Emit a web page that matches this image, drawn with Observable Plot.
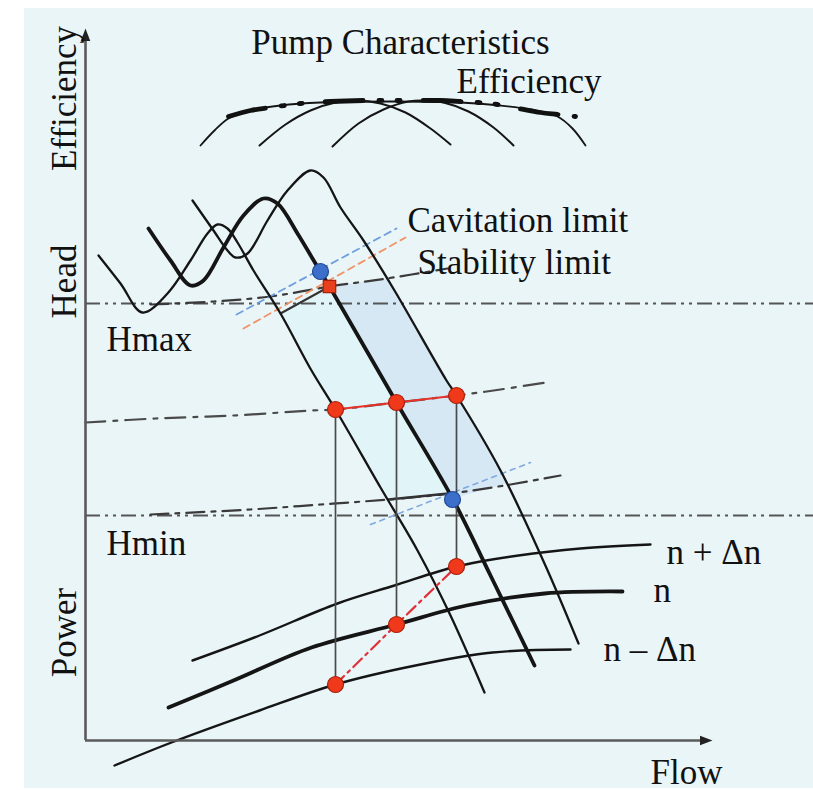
<!DOCTYPE html>
<html>
<head>
<meta charset="utf-8">
<script src="https://cdn.jsdelivr.net/npm/d3@7"></script>
<script src="https://cdn.jsdelivr.net/npm/@observablehq/plot@0.6"></script>
<style>
  html, body { margin: 0; padding: 0; background: #ffffff; }
  #wrap { position: relative; width: 813px; height: 790px; overflow: hidden; }
  #panel { position: absolute; left: 24px; top: 8px; right: 0; bottom: 2px; background: #eaf5f8; }
  #chart { position: absolute; left: 0; top: 0; }
</style>
</head>
<body>
<div id="wrap"><div id="panel"></div><div id="chart"></div></div>
<script>
// Schematic units: q = flow (0 at the vertical axis), h = level (0 at the flow axis).

// Efficiency curves for the three speeds and their envelope
const effOuter = [[115,595],[129,610],[143,622],[165,630],[195,635],[235,638],[307,639],[375,638],[415,635],[445,631],[472,624],[487,612],[500,595]];
const effLeft  = [[174,595],[200,616],[225,630],[250,638],[270,640],[295,637],[320,628],[345,612],[365,596]];
const effRight = [[247,594],[273,617],[298,631],[323,639],[338,640],[358,638],[383,629],[408,613],[428,595]];
const effEnvelope = [[143,624],[165,630],[185,633],[215,637],[245,639],[278,640],[315,640],[355,640],[375,639],[393,638],[412,636],[433,632],[455,628],[472,626],[490,624]];

// Head curves: n − Δn, n, n + Δn
const headLow  = [[13,485],[35,457],[57,428],[82,447],[105,480],[122,507],[132,516],[142,512],[152,498],[168,470],[195,427],[226,370],[250,331],[295,253],[332,190],[365,125],[399,48]];
const headNom  = [[63,512],[85,480],[105,455],[118,460],[138,493],[158,525],[178,542],[192,537],[212,507],[227,482],[236,467],[244,454],[311,338],[367,242],[405,165],[449,75]];
const headHigh = [[107,540],[128,510],[142,490],[150,483],[162,487],[182,520],[202,550],[225,570],[238,563],[255,533],[278,500],[309,450],[361,360],[371,345],[415,270],[459,177],[493,97]];

// Power curves: n + Δn, n, n − Δn
const powerHigh = [[107,80],[174,105],[252,137],[309,155],[371,174],[433,185],[495,192],[565,196]];
const powerNom  = [[83,33],[148,60],[226,93],[311,116],[381,135],[459,147],[537,149]];
const powerLow  = [[29,-25],[86,-2],[174,30],[250,56],[330,75],[407,88],[485,91]];

// Head limits
const headLimits = [{name: "Hmax", h: 437}, {name: "Hmin", h: 225}];

// System curve through the operating points
const systemCurve = [[0,318],[70,322],[148,325],[226,330],[250,331],[311,338],[371,345],[415,351],[460,358]];

// Stability limit lines
const stabilityUpper = [[65,436],[128,439],[185,444],[244,454],[301,462],[362,472]];
const stabilityUpperSolid = [[195,427],[244,454]];
const stabilityLower = [[65,226],[165,231],[235,236],[303,241],[365,247],[425,256],[475,265]];
const stabilityLowerSolid = [[303,241],[363,247]];

// Cavitation limit lines
const cavitationBlueUpper = [[151,426],[311,512]];
const cavitationOrangeUpper = [[158,412],[320,503]];
const cavitationBlueLower = [[285,216],[445,278]];

// Operating range between the n and n + Δn curves
const operatingRange = [[244,454],[311,338],[367,242],[421,257],[415,270],[371,345],[361,360],[309,450],[301,462]];
// Band between the n − Δn and n curves
const lowerBand = [[195,427],[226,370],[250,331],[295,253],[303,241],[363,247],[367,242],[311,338],[244,454]];

// Operating points (head) and the matching power points
const opFlows = [250, 311, 371];
const opHeads = [331, 338, 345];
const opPowers = [56, 116, 174];
const stabilityPoint = [[244,454]];
const cavitationPoints = [[235,469],[367,241]];

// Text
const axisNames = [{text: "Efficiency", h: 642}, {text: "Head", h: 459}, {text: "Power", h: 108}];
const title = [{text: "Pump Characteristics", q: 315, h: 687}];
const notes = [
  {text: "Efficiency", q: 371, h: 648},
  {text: "Cavitation limit", q: 322, h: 509},
  {text: "Stability limit", q: 332, h: 467},
  {text: "Hmax", q: 21, h: 390},
  {text: "Hmin", q: 21, h: 186},
  {text: "n + Δn", q: 581, h: 177},
  {text: "n", q: 568, h: 139},
  {text: "n – Δn", q: 518, h: 80},
  {text: "Flow", q: 565, h: -43}
];

const axisTop = 712, axisRight = 627;

const opPoints = opFlows.map((q, i) => [q, opHeads[i]]);
const powerPoints = opFlows.map((q, i) => [q, opPowers[i]]);
const links = opFlows.map((q, i) => ({q, h1: opHeads[i], h2: opPowers[i]}));

// Filled arrowhead with its tip at the anchor, pointing up
const arrowHead = {
  draw(context, size) {
    const s = Math.sqrt(size / Math.PI);
    context.moveTo(0, 0);
    context.lineTo(s * 0.95, s * 2.5);
    context.lineTo(-s * 0.95, s * 2.5);
    context.closePath();
  }
};

const serif = "'Liberation Serif', 'Times New Roman', serif";
const curve = "catmull-rom";
const ink = "#151515";

const chart = Plot.plot({
  width: 813,
  height: 790,
  margin: 0,
  x: {domain: [-85, 728], axis: null},
  y: {domain: [-50, 740], axis: null},
  style: {background: "transparent", overflow: "visible"},
  marks: [
    // shaded bands
    Plot.line(lowerBand, {fill: "#e1f4f8", stroke: "none"}),
    Plot.line(operatingRange, {fill: "#d4e7f3", stroke: "none", fillOpacity: 0.95}),

    // Hmax / Hmin
    Plot.ruleY(headLimits, {y: "h", x1: 0, x2: 728, stroke: "#555", strokeWidth: 2.2, strokeDasharray: "15,5,3,5,3,5"}),

    // system curve
    Plot.line(systemCurve, {curve, stroke: "#4a4a4a", strokeWidth: 2.2, strokeDasharray: "20,8,4,8"}),

    // stability limit
    Plot.line(stabilityUpper, {curve, stroke: "#3a3a3a", strokeWidth: 2.2, strokeDasharray: "18,7,4,7"}),
    Plot.line(stabilityUpperSolid, {stroke: "#333", strokeWidth: 2}),
    Plot.line(stabilityLower, {curve, stroke: "#3a3a3a", strokeWidth: 2.2, strokeDasharray: "18,7,4,7"}),
    Plot.line(stabilityLowerSolid, {stroke: "#333", strokeWidth: 2.4}),

    // cavitation limit
    Plot.line(cavitationBlueUpper, {stroke: "#6f9fdc", strokeWidth: 1.8, strokeDasharray: "7,5"}),
    Plot.line(cavitationOrangeUpper, {stroke: "#ef9468", strokeWidth: 1.8, strokeDasharray: "7,5"}),
    Plot.line(cavitationBlueLower, {stroke: "#7fa9e0", strokeWidth: 1.6, strokeDasharray: "5,5"}),

    // efficiency
    Plot.line(effOuter, {curve, stroke: ink, strokeWidth: 1.8}),
    Plot.line(effLeft, {curve, stroke: ink, strokeWidth: 2}),
    Plot.line(effRight, {curve, stroke: ink, strokeWidth: 2}),
    Plot.line(effEnvelope, {curve, stroke: "#111", strokeWidth: 4.8, strokeDasharray: "38,16,3,15,3,23"}),

    // head
    Plot.line(headLow, {curve, stroke: ink, strokeWidth: 2.3}),
    Plot.line(headNom, {curve, stroke: ink, strokeWidth: 3.8}),
    Plot.line(headHigh, {curve, stroke: ink, strokeWidth: 2.3}),

    // power
    Plot.line(powerHigh, {curve, stroke: ink, strokeWidth: 2.4}),
    Plot.line(powerNom, {curve, stroke: ink, strokeWidth: 3.8}),
    Plot.line(powerLow, {curve, stroke: ink, strokeWidth: 2.4}),

    // operating points projected onto the power curves
    Plot.link(links, {x1: "q", x2: "q", y1: "h1", y2: "h2", stroke: "#4a4a4a", strokeWidth: 1.7}),
    Plot.line(opPoints, {stroke: "#e8322a", strokeWidth: 2.2}),
    Plot.line(powerPoints, {stroke: "#e0303a", strokeWidth: 2.2, strokeDasharray: "12,5,3,5"}),

    // points
    Plot.dot(cavitationPoints, {r: 8, fill: "#3b6fca", stroke: "#1e4a94", strokeWidth: 1.2}),
    Plot.dot(stabilityPoint, {symbol: "square", r: 7, fill: "#e8401c", stroke: "#a8220e", strokeWidth: 1.2}),
    Plot.dot(opPoints, {r: 8, fill: "#f0381a", stroke: "#a8200e", strokeWidth: 1.2}),
    Plot.dot(powerPoints, {r: 8, fill: "#f0381a", stroke: "#a8200e", strokeWidth: 1.2}),

    // axes
    Plot.ruleX([0], {y1: 0, y2: axisTop - 10, stroke: "#5a5a5a", strokeWidth: 2.6}),
    Plot.ruleY([0], {x1: 0, x2: axisRight - 10, stroke: "#5a5a5a", strokeWidth: 2.6}),
    Plot.dot([[0, axisTop]], {symbol: arrowHead, r: 5, fill: "#222", stroke: "none"}),
    Plot.dot([[axisRight, 0]], {symbol: arrowHead, r: 5, rotate: 90, fill: "#222", stroke: "none"}),

    // text
    Plot.text(axisNames, {x: () => -10, y: "h", text: "text", rotate: -90, textAnchor: "middle", lineAnchor: "bottom", fontFamily: serif, fontSize: 35, fill: "#111"}),
    Plot.text(title, {x: "q", y: "h", text: "text", textAnchor: "middle", lineAnchor: "bottom", fontFamily: serif, fontSize: 35, fill: "#111"}),
    Plot.text(notes, {x: "q", y: "h", text: "text", textAnchor: "start", lineAnchor: "bottom", fontFamily: serif, fontSize: 35, fill: "#111"})
  ]
});

document.getElementById("chart").appendChild(chart);
</script>
</body>
</html>
